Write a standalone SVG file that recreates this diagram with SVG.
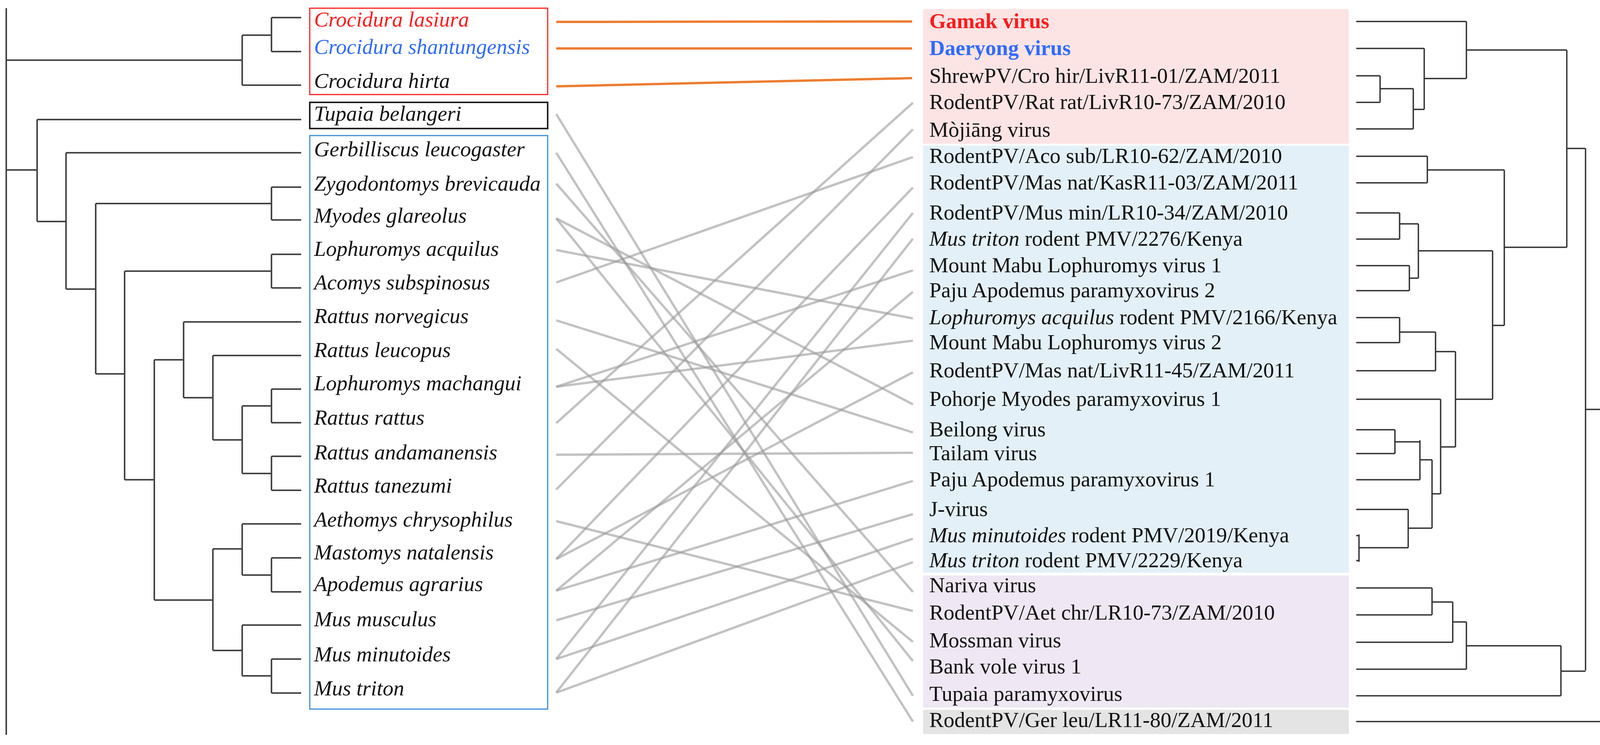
<svg xmlns="http://www.w3.org/2000/svg" width="4287" height="1907" viewBox="0 0 4287 1907">
<style>
.t{font-family:"Liberation Serif","Times New Roman",serif;font-size:55px;fill:#111}
.i{font-style:italic}
.lt{fill:none;stroke:#444;stroke-width:4}
.rt{fill:none;stroke:#333;stroke-width:3.5}
.g{stroke:#9a9a9a;stroke-opacity:0.6;stroke-width:6}
.o{stroke:#ED7D31;stroke-width:6}
</style>
<rect width="4287" height="1907" fill="#fff"/>
<g id="host-tree">
<path class="lt" d="M16 21V1881M16 154H620M16 435H95
M620 90V218M620 90H695M620 218H771M695 45V132M695 45H771M695 132H771
M95 306V567M95 306H771M95 567H169
M169 391V740M169 391H771M169 740H245
M245 521V957M245 521H695M695 479V563M695 479H771M695 563H771
M245 957H319M319 694V1228M319 694H695M695 651V737M695 651H771M695 737H771
M319 1228H395M395 921V1536M395 921H470
M470 824V1018M470 824H771M470 1018H545
M545 910V1126M545 910H771M545 1126H620
M620 1039V1212M620 1039H695M620 1212H695
M695 996V1082M695 996H771M695 1082H771
M695 1168V1255M695 1168H771M695 1255H771
M395 1536H545M545 1405V1665M545 1405H620M545 1665H620
M620 1341V1472M620 1341H771M620 1472H695M695 1428V1515M695 1428H771M695 1515H771
M620 1600V1730M620 1600H771M620 1730H695M695 1687V1774M695 1687H771M695 1774H771"/>
</g>
<g id="host-boxes">
<rect x="793" y="21" width="609" height="221" fill="none" stroke="#FF2020" stroke-width="3"/>
<rect x="793" y="262" width="609" height="67" fill="none" stroke="#222" stroke-width="4"/>
<rect x="793" y="347" width="609" height="1468" fill="none" stroke="#3B8ED8" stroke-width="3"/>
</g>
<g id="host-labels" class="t i">
<text x="804" y="68" fill="#FF1A1A">Crocidura lasiura</text>
<text x="804" y="138" fill="#2F6BFF">Crocidura shantungensis</text>
<text x="804" y="225">Crocidura hirta</text>
<text x="804" y="309">Tupaia belangeri</text>
<text x="804" y="400">Gerbilliscus leucogaster</text>
<text x="804" y="488">Zygodontomys brevicauda</text>
<text x="804" y="570">Myodes glareolus</text>
<text x="804" y="655">Lophuromys acquilus</text>
<text x="804" y="741">Acomys subspinosus</text>
<text x="804" y="827">Rattus norvegicus</text>
<text x="804" y="914">Rattus leucopus</text>
<text x="804" y="999">Lophuromys machangui</text>
<text x="804" y="1087">Rattus rattus</text>
<text x="804" y="1176">Rattus andamanensis</text>
<text x="804" y="1261">Rattus tanezumi</text>
<text x="804" y="1348">Aethomys chrysophilus</text>
<text x="804" y="1432">Mastomys natalensis</text>
<text x="804" y="1513">Apodemus agrarius</text>
<text x="804" y="1603">Mus musculus</text>
<text x="804" y="1693">Mus minutoides</text>
<text x="804" y="1780">Mus triton</text>
</g>
<g id="virus-backgrounds">
<rect x="2363" y="23" width="1090" height="345" fill="#FDE4E4"/>
<rect x="2363" y="373" width="1090" height="1093" fill="#E3F0F8"/>
<rect x="2363" y="1473" width="1090" height="338" fill="#EFE7F4"/>
<rect x="2363" y="1817" width="1090" height="62" fill="#E4E4E4"/>
</g>
<g id="virus-labels" class="t">
<text x="2379" y="72" fill="#FF1A1A" font-weight="bold">Gamak virus</text>
<text x="2379" y="141" fill="#2F6BFF" font-weight="bold">Daeryong virus</text>
<text x="2379" y="212">ShrewPV/Cro hir/LivR11-01/ZAM/2011</text>
<text x="2379" y="279">RodentPV/Rat rat/LivR10-73/ZAM/2010</text>
<text x="2379" y="350">Mòjiāng virus</text>
<text x="2379" y="417">RodentPV/Aco sub/LR10-62/ZAM/2010</text>
<text x="2379" y="485">RodentPV/Mas nat/KasR11-03/ZAM/2011</text>
<text x="2379" y="562">RodentPV/Mus min/LR10-34/ZAM/2010</text>
<text x="2379" y="629"><tspan class="i">Mus triton</tspan> rodent PMV/2276/Kenya</text>
<text x="2379" y="697">Mount Mabu Lophuromys virus 1</text>
<text x="2379" y="761">Paju Apodemus paramyxovirus 2</text>
<text x="2379" y="830"><tspan class="i">Lophuromys acquilus</tspan> rodent PMV/2166/Kenya</text>
<text x="2379" y="894">Mount Mabu Lophuromys virus 2</text>
<text x="2379" y="966">RodentPV/Mas nat/LivR11-45/ZAM/2011</text>
<text x="2379" y="1039">Pohorje Myodes paramyxovirus 1</text>
<text x="2379" y="1117">Beilong virus</text>
<text x="2379" y="1178">Tailam virus</text>
<text x="2379" y="1245">Paju Apodemus paramyxovirus 1</text>
<text x="2379" y="1321">J-virus</text>
<text x="2379" y="1388"><tspan class="i">Mus minutoides</tspan> rodent PMV/2019/Kenya</text>
<text x="2379" y="1452"><tspan class="i">Mus triton</tspan> rodent PMV/2229/Kenya</text>
<text x="2379" y="1516">Nariva virus</text>
<text x="2379" y="1586">RodentPV/Aet chr/LR10-73/ZAM/2010</text>
<text x="2379" y="1657">Mossman virus</text>
<text x="2379" y="1724">Bank vole virus 1</text>
<text x="2379" y="1794">Tupaia paramyxovirus</text>
<text x="2379" y="1861">RodentPV/Ger leu/LR11-80/ZAM/2011</text>
</g>
<g id="virus-tree">
<path class="rt" d="M3472 55H3754M3754 55V201M3754 128H4011
M3472 124H3646M3646 124V280M3646 201H3754
M3472 194H3533M3472 262H3533M3533 194V262M3533 227H3618M3472 330H3618M3618 227V330M3618 280H3646
M4011 128V633M4011 380H4059M4059 380V1716M4059 1048H4264M4264 1048V1850M3472 1847H4264
M3472 400H3654M3472 468H3654M3654 400V468M3654 435H3851M3851 435V833M3851 633H4011
M3472 545H3583M3472 612H3583M3583 545V612M3583 573H3631M3472 680H3608M3472 744H3608M3608 680V744M3608 712H3631M3631 573V712M3631 642H3821M3821 642V1022M3821 833H3851
M3472 813H3583M3472 877H3583M3583 813V877M3583 850H3675M3472 949H3675M3675 850V949M3675 900H3726M3726 900V1144M3726 1022H3821
M3472 1022H3688M3688 1022V1264M3688 1144H3726M3666 1264H3688
M3472 1100H3571M3472 1161H3571M3571 1100V1161M3571 1131H3635M3472 1228H3635M3635 1127V1228M3635 1177H3666M3666 1177V1352
M3472 1304H3605M3605 1304V1402M3605 1352H3666M3472 1371H3479M3472 1435H3479M3479 1368V1438M3479 1402H3605
M3472 1505H3666M3472 1574H3666M3666 1505V1574M3666 1541H3719M3472 1644H3719M3719 1541V1644M3719 1592H3754M3472 1713H3754M3754 1592V1713M3754 1653H3996M3472 1781H3996M3996 1653V1781M3996 1718H4059"/>
</g>
<g id="connectors">
<line class="o" x1="1424" y1="56" x2="2335" y2="55"/>
<line class="o" x1="1424" y1="124" x2="2335" y2="124"/>
<line class="o" x1="1424" y1="221" x2="2335" y2="200"/>
<line class="g" x1="1424" y1="292" x2="2337" y2="1781"/>
<line class="g" x1="1424" y1="391" x2="2337" y2="1847"/>
<line class="g" x1="1424" y1="470" x2="2337" y2="1515"/>
<line class="g" x1="1424" y1="559" x2="2337" y2="1035"/>
<line class="g" x1="1424" y1="559" x2="2337" y2="1692"/>
<line class="g" x1="1424" y1="640" x2="2337" y2="815"/>
<line class="g" x1="1424" y1="723" x2="2337" y2="402"/>
<line class="g" x1="1424" y1="820" x2="2337" y2="1107"/>
<line class="g" x1="1424" y1="893" x2="2337" y2="1643"/>
<line class="g" x1="1424" y1="990" x2="2337" y2="692"/>
<line class="g" x1="1424" y1="990" x2="2337" y2="872"/>
<line class="g" x1="1424" y1="1083" x2="2337" y2="263"/>
<line class="g" x1="1424" y1="1164" x2="2337" y2="1159"/>
<line class="g" x1="1424" y1="1253" x2="2337" y2="331"/>
<line class="g" x1="1424" y1="1334" x2="2337" y2="1564"/>
<line class="g" x1="1424" y1="1431" x2="2337" y2="480"/>
<line class="g" x1="1424" y1="1431" x2="2337" y2="953"/>
<line class="g" x1="1424" y1="1512" x2="2337" y2="1231"/>
<line class="g" x1="1424" y1="1512" x2="2337" y2="747"/>
<line class="g" x1="1424" y1="1588" x2="2337" y2="1316"/>
<line class="g" x1="1424" y1="1687" x2="2337" y2="545"/>
<line class="g" x1="1424" y1="1687" x2="2337" y2="1379"/>
<line class="g" x1="1424" y1="1773" x2="2337" y2="611"/>
<line class="g" x1="1424" y1="1773" x2="2337" y2="1439"/>
</g>
</svg>
